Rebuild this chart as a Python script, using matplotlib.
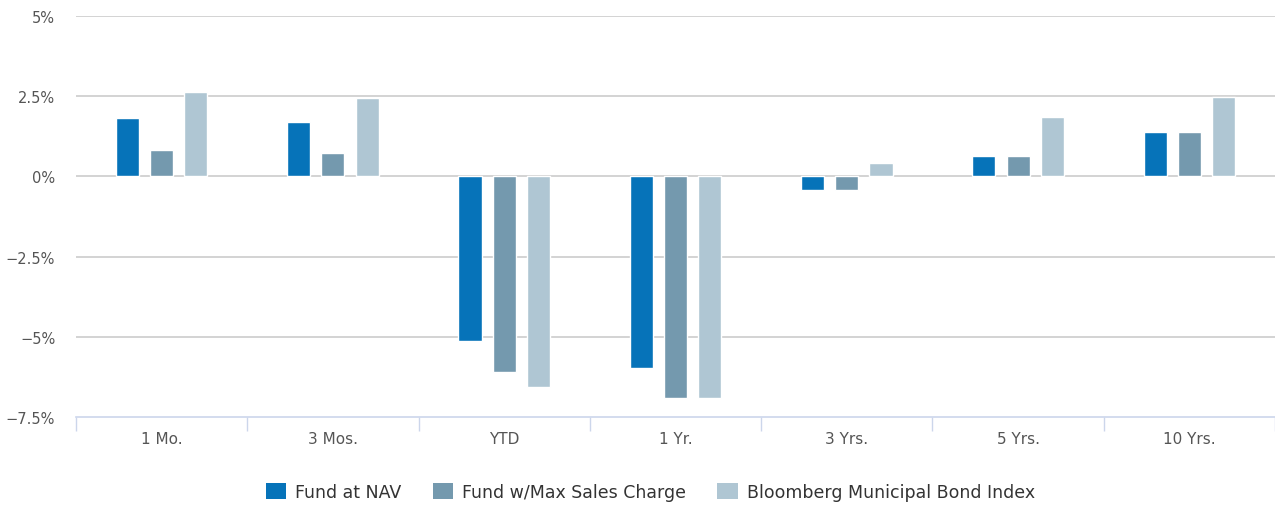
import numpy as np
import matplotlib.pyplot as plt
from matplotlib.patches import Patch

periods = ["1 Mo.", "3 Mos.", "YTD", "1 Yr.", "3 Yrs.", "5 Yrs.", "10 Yrs."]
fund_nav = [1.82, 1.70, -5.13, -5.98, -0.43, 0.65, 1.38]
fund_max = [0.83, 0.74, -6.09, -6.91, -0.43, 0.65, 1.38]
bond_index = [2.62, 2.43, -6.55, -6.91, 0.42, 1.86, 2.47]

series = ["Fund at NAV", "Fund w/Max Sales Charge", "Bloomberg Municipal Bond Index"]
colors = ["#0673b9", "#7499ae", "#afc6d3"]

yticks = [5, 2.5, 0, -2.5, -5, -7.5]
ytick_labels = ["5%", "2.5%", "0%", "\u22122.5%", "\u22125%", "\u22127.5%"]

plt.rcParams["font.family"] = ["DejaVu Sans"]

fig = plt.figure(figsize=(12.75, 5.06), dpi=100)
ax = fig.add_axes([76 / 1275, 88 / 506, 1 - 76 / 1275, (418 - 17) / 506])

x = np.arange(len(periods))
offsets = [-0.2, 0, 0.2]
for vals, off, col, name in zip([fund_nav, fund_max, bond_index], offsets, colors, series):
    ax.bar(x + off, vals, width=0.135, color=col, edgecolor="white", linewidth=1, label=name, zorder=3)

ax.set_xlim(-0.5, len(periods) - 0.5)
ax.set_ylim(-7.5, 5)

ax.set_yticks(yticks)
ax.set_yticklabels(ytick_labels)
for yv in yticks[:-1]:
    ax.axhline(yv, color="#cccccc", linewidth=1.2, zorder=1)

ax.set_xticks(x)
ax.set_xticklabels(periods)
ax.set_xticks(np.arange(-0.5, len(periods)), minor=True)
ax.tick_params(axis="x", which="major", length=0, pad=10, labelsize=11, labelcolor="#555555")
ax.tick_params(axis="x", which="minor", length=10, width=1, color="#ccd6eb")
ax.tick_params(axis="y", length=0, pad=15, labelsize=10.5, labelcolor="#555555")

for side in ["top", "right", "left"]:
    ax.spines[side].set_visible(False)
ax.spines["bottom"].set_color("#ccd6eb")
ax.spines["bottom"].set_linewidth(1.2)

handles = [Patch(facecolor=c, edgecolor="none") for c in colors]
fig.legend(handles, series, loc="center", bbox_to_anchor=(0.51, 1 - 493 / 506), ncol=3,
           frameon=False, fontsize=12.5, handlelength=1.2, handleheight=1.0,
           columnspacing=1.8, handletextpad=0.5, labelcolor="#333333")

fig.savefig("out.png", dpi=100)
